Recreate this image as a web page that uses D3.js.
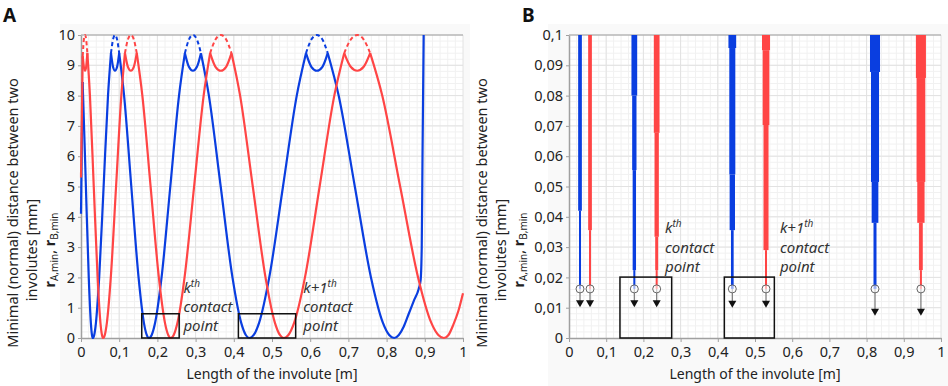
<!DOCTYPE html>
<html>
<head>
<meta charset="utf-8">
<script src="https://cdn.jsdelivr.net/npm/d3@7"></script>
<style>
  body { margin: 0; background: #fff; }
  svg { display: block; }
  text { font-family: "Noto Sans", sans-serif; fill: #222; }
</style>
</head>
<body>
<svg id="chart" width="948" height="386"></svg>
<script>
// x ticks, shared by both panels
const xTicks = [0, 0.1, 0.2, 0.3, 0.4, 0.5, 0.6, 0.7, 0.8, 0.9, 1]
const xTickLabels = ["0", "0,1", "0,2", "0,3", "0,4", "0,5", "0,6", "0,7", "0,8", "0,9", "1"]
const yTicksA = [0, 1, 2, 3, 4, 5, 6, 7, 8, 9, 10]
const yTickLabelsA = ["0", "1", "2", "3", "4", "5", "6", "7", "8", "9", "10"]
const yTicksB = [0, 0.01, 0.02, 0.03, 0.04, 0.05, 0.06, 0.07, 0.08, 0.09, 0.1]
const yTickLabelsB = ["0", "0,01", "0,02", "0,03", "0,04", "0,05", "0,06", "0,07", "0,08", "0,09", "0,1"]

// panel A: [length, distance]
const blueA = [
  [0, 4.1], [0.004, 8.45], [0.0054, 8], [0.0128, 5], [0.0203, 2], [0.0258, 0.5], [0.0287, 0.1], [0.031, 0],
  [0.0346, 0.1], [0.0391, 0.5], [0.0476, 2], [0.0592, 5], [0.0707, 8], [0.0785, 9.4],
  [0.0838, 8.95], [0.089, 8.82], [0.0945, 8.95], [0.1, 9.4],
  [0.1128, 8], [0.1317, 5], [0.1507, 2], [0.1647, 0.5], [0.1721, 0.1], [0.178, 0],
  [0.1851, 0.1], [0.194, 0.5], [0.2109, 2], [0.2338, 5], [0.2566, 8], [0.272, 9.4],
  [0.2825, 8.95], [0.293, 8.82], [0.3035, 8.95], [0.314, 9.4],
  [0.3348, 8], [0.3657, 5], [0.3965, 2], [0.4194, 0.5], [0.4314, 0.1], [0.441, 0],
  [0.4522, 0.1], [0.4662, 0.5], [0.4928, 2], [0.5288, 5], [0.5648, 8], [0.589, 9.4],
  [0.603, 8.95], [0.6175, 8.82], [0.632, 8.95], [0.646, 9.4],
  [0.6745, 8], [0.7168, 5], [0.7591, 2], [0.7904, 0.5], [0.8068, 0.1], [0.82, 0],
  [0.832, 0.1], [0.845, 0.38], [0.858, 0.8], [0.872, 1.25], [0.884, 1.62], [0.889, 1.9],
  [0.892, 3], [0.894, 6], [0.897, 10]
]
const redA = [
  [0, 5.3], [0.0045, 9.3], [0.0075, 8.95], [0.0105, 8.82], [0.0135, 8.95], [0.0166, 9.4],
  [0.0234, 8], [0.0334, 5], [0.0435, 2], [0.0509, 0.5], [0.0549, 0.1], [0.058, 0],
  [0.0623, 0.1], [0.0677, 0.5], [0.078, 2], [0.0918, 5], [0.1056, 8], [0.115, 9.4],
  [0.1228, 8.95], [0.1305, 8.82], [0.1383, 8.95], [0.146, 9.4],
  [0.1606, 8], [0.1822, 5], [0.2038, 2], [0.2198, 0.5], [0.2283, 0.1], [0.235, 0],
  [0.2428, 0.1], [0.2525, 0.5], [0.2711, 2], [0.2961, 5], [0.3211, 8], [0.338, 9.4],
  [0.352, 8.95], [0.366, 8.82], [0.38, 8.95], [0.394, 9.4],
  [0.4165, 8], [0.4497, 5], [0.483, 2], [0.5077, 0.5], [0.5206, 0.1], [0.531, 0],
  [0.543, 0.1], [0.5579, 0.5], [0.5863, 2], [0.6247, 5], [0.6631, 8], [0.689, 9.4],
  [0.706, 8.95], [0.723, 8.82], [0.74, 8.95], [0.757, 9.4],
  [0.7886, 8], [0.8355, 5], [0.8824, 2], [0.9171, 0.5], [0.9354, 0.1], [0.95, 0],
  [0.962, 0.1], [0.975, 0.45], [0.988, 0.9], [1, 1.48]
]
// dashed tops above the cusps
const blueDashA = [
  [[0.0785, 9.4], [0.0838, 9.85], [0.089, 10], [0.0945, 9.85], [0.1, 9.4]],
  [[0.272, 9.4], [0.2825, 9.85], [0.293, 10], [0.3035, 9.85], [0.314, 9.4]],
  [[0.589, 9.4], [0.603, 9.85], [0.6175, 10], [0.632, 9.85], [0.646, 9.4]]
]
const redDashA = [
  [[0.0045, 9.3], [0.0075, 9.85], [0.0105, 10], [0.0135, 9.85], [0.0166, 9.4]],
  [[0.115, 9.4], [0.1228, 9.85], [0.1305, 10], [0.1383, 9.85], [0.146, 9.4]],
  [[0.338, 9.4], [0.352, 9.85], [0.366, 10], [0.38, 9.85], [0.394, 9.4]],
  [[0.689, 9.4], [0.706, 9.85], [0.723, 10], [0.74, 9.85], [0.757, 9.4]]
]
// contact point boxes [x0, x1, yTop]
const boxesA = [[0.159, 0.257, 0.8], [0.412, 0.562, 0.8]]
const boxesB = [[0.137, 0.276, 0.0201], [0.4175, 0.552, 0.0201]]

// panel B: bar centre, colour, steps [vTop, vBottom, halfSpread]
const barsB = [
  { x: 0.0296, s: "blue", steps: [[0.1, 0.042, 0.005], [0.042, 0.0162, 0.0027]] },
  { x: 0.0565, s: "red", steps: [[0.1, 0.0356, 0.005], [0.0356, 0.0162, 0.0027]] },
  { x: 0.1756, s: "blue", steps: [[0.1, 0.08, 0.0077], [0.08, 0.0554, 0.0058], [0.0554, 0.0224, 0.0045], [0.0224, 0.0162, 0.0027]] },
  { x: 0.2357, s: "red", steps: [[0.1, 0.0677, 0.0077], [0.0677, 0.0334, 0.0058], [0.0334, 0.0224, 0.004], [0.0224, 0.0162, 0.0027]] },
  { x: 0.439, s: "blue", steps: [[0.1, 0.0957, 0.0104], [0.0957, 0.054, 0.0081], [0.054, 0.0356, 0.0072], [0.0356, 0.0162, 0.0036]] },
  { x: 0.5296, s: "red", steps: [[0.1, 0.095, 0.0108], [0.095, 0.0703, 0.009], [0.0703, 0.029, 0.0068], [0.029, 0.0162, 0.0027]] },
  { x: 0.8226, s: "blue", steps: [[0.1, 0.0878, 0.0135], [0.0878, 0.0515, 0.0108], [0.0515, 0.038, 0.009], [0.038, 0.0162, 0.004]] },
  { x: 0.946, s: "red", steps: [[0.1, 0.0858, 0.0135], [0.0858, 0.0515, 0.0117], [0.0515, 0.038, 0.0098], [0.038, 0.0224, 0.005], [0.0224, 0.0162, 0.0027]] }
]
const circleB = [0.0162, 0.0162, 0.0162, 0.0162, 0.0162, 0.0162, 0.0162, 0.0162]
const arrowB = [0.0117, 0.0117, 0.0117, 0.0117, 0.0115, 0.0115, 0.0089, 0.0089]

const labelsA = [{ x: 0.268, k: "k", sup: "th" }, { x: 0.582, k: "k+1", sup: "th" }]
const labelRowsA = [1.49, 0.86, 0.23]
const labelsB = [{ x: 0.258, k: "k", sup: "th" }, { x: 0.567, k: "k+1", sup: "th" }]
const labelRowsB = [0.0347, 0.0282, 0.0219]

const colors = { blue: "#0a3ee0", red: "#ff4545" }

const svg = d3.select("#chart")

function drawPanel(cfg) {
  const x = d3.scaleLinear().domain([0, 1]).range(cfg.xRange)
  const y = d3.scaleLinear().domain([0, cfg.yMax]).range([338, 35])
  const g = svg.append("g")

  g.append("rect")
    .attr("x", cfg.bg[0]).attr("y", 24)
    .attr("width", cfg.bg[1] - cfg.bg[0]).attr("height", 362)
    .attr("fill", "#f9f9f9")
  g.append("rect")
    .attr("x", x(0)).attr("y", y(cfg.yMax))
    .attr("width", x(1) - x(0)).attr("height", y(0) - y(cfg.yMax))
    .attr("fill", "#fff")

  // minor grid
  g.selectAll("line.minorX").data(d3.range(0.02, 1, 0.02)).join("line")
    .attr("x1", d => x(d)).attr("x2", d => x(d))
    .attr("y1", y(0)).attr("y2", y(cfg.yMax))
    .style("stroke", "#f1f1f1")
  g.selectAll("line.minorY").data(d3.range(1, 50).map(i => i * cfg.yMax / 50)).join("line")
    .attr("y1", d => y(d)).attr("y2", d => y(d))
    .attr("x1", x(0)).attr("x2", x(1))
    .style("stroke", "#f1f1f1")
  // major grid
  g.selectAll("line.majorX").data(xTicks.slice(1)).join("line")
    .attr("x1", d => x(d)).attr("x2", d => x(d))
    .attr("y1", y(0)).attr("y2", y(cfg.yMax))
    .style("stroke", "#e2e2e2")
  g.selectAll("line.majorY").data(cfg.yTicks.slice(1)).join("line")
    .attr("y1", d => y(d)).attr("y2", d => y(d))
    .attr("x1", x(0)).attr("x2", x(1))
    .style("stroke", "#e2e2e2")
  // top border
  g.append("line")
    .attr("x1", x(0)).attr("x2", x(1)).attr("y1", y(cfg.yMax)).attr("y2", y(cfg.yMax))
    .style("stroke", "#a0a0a0").style("stroke-width", 1.2)

  const xAxis = d3.axisBottom(x).tickValues(xTicks)
    .tickFormat((d, i) => xTickLabels[i]).tickSize(4).tickSizeOuter(0).tickPadding(5)
  const yAxis = d3.axisLeft(y).tickValues(cfg.yTicks)
    .tickFormat((d, i) => cfg.yTickLabels[i]).tickSize(3).tickSizeOuter(0).tickPadding(3)
  g.append("g").attr("transform", `translate(0,${y(0)})`).call(xAxis)
  g.append("g").attr("transform", `translate(${x(0)},0)`).call(yAxis)
  g.selectAll(".domain").style("stroke", "#a0a0a0").style("stroke-width", 1.5)
  g.selectAll(".tick line").style("stroke", "#a0a0a0")
  g.selectAll(".tick text").style("font-size", "14.5px").style("fill", "#222")
    .style("font-family", "'Noto Sans', sans-serif")

  // axis titles
  g.append("text")
    .attr("x", (x(0) + x(1)) / 2).attr("y", 379)
    .attr("text-anchor", "middle").style("font-size", "14px")
    .text("Length of the involute [m]")
  const t = g.append("g")
    .attr("transform", `translate(${cfg.titleX},0) rotate(-90)`)
  t.append("text").attr("x", -cfg.titleY[0]).attr("y", 0)
    .attr("text-anchor", "middle").style("font-size", "14.5px")
    .text("Minimal (normal) distance between two")
  t.append("text").attr("x", -cfg.titleY[1]).attr("y", 19)
    .attr("text-anchor", "middle").style("font-size", "14.5px")
    .text("involutes [mm]")
  const r = t.append("text").attr("x", -cfg.titleY[1]).attr("y", 37)
    .attr("text-anchor", "middle").style("font-size", "14.5px")
  r.append("tspan").style("font-weight", "bold").text("r")
  r.append("tspan").attr("baseline-shift", "-25%").style("font-size", "10px").text("A,min")
  r.append("tspan").text(", ")
  r.append("tspan").style("font-weight", "bold").text("r")
  r.append("tspan").attr("baseline-shift", "-25%").style("font-size", "10px").text("B,min")

  g.append("text").attr("x", cfg.letterX).attr("y", 22)
    .style("font-size", "19px").style("font-weight", "bold").style("fill", "#111")
    .text(cfg.letter)

  return { g, x, y }
}

// split a curve at its cusps (local maxima) so each piece stays smooth
function splitAtCusps(points) {
  const pieces = []
  let cur = [points[0]]
  for (let i = 1; i < points.length; i++) {
    cur.push(points[i])
    const prev = points[i - 1], next = points[i + 1]
    if (next && points[i][1] > prev[1] && points[i][1] > next[1]) {
      pieces.push(cur)
      cur = [points[i]]
    }
  }
  pieces.push(cur)
  return pieces
}

// ---- panel A
const A = drawPanel({
  xRange: [81, 463], yMax: 10, yTicks: yTicksA, yTickLabels: yTickLabelsA,
  bg: [60, 470], titleX: 18, titleY: [213, 250], letter: "A", letterX: 3
})
const lineA = d3.line().x(d => A.x(d[0])).y(d => A.y(d[1])).curve(d3.curveMonotoneX)

const series = [["blue", blueA, blueDashA], ["red", redA, redDashA]]
series.forEach(([name, pts, dashes]) => {
  A.g.selectAll(null).data(dashes).join("path")
    .attr("d", lineA)
    .style("fill", "none").style("stroke", colors[name])
    .style("stroke-width", 2).style("stroke-dasharray", "4,3")
  A.g.selectAll(null).data(splitAtCusps(pts)).join("path")
    .attr("d", lineA)
    .style("fill", "none").style("stroke", colors[name])
    .style("stroke-width", 2.2).style("stroke-linejoin", "round")
})

A.g.selectAll(null).data(boxesA).join("rect")
  .attr("x", d => A.x(d[0])).attr("y", d => A.y(d[2]))
  .attr("width", d => A.x(d[1]) - A.x(d[0])).attr("height", d => A.y(0) - A.y(d[2]))
  .style("fill", "none").style("stroke", "#111").style("stroke-width", 1.5)

function drawLabels(p, labels, rows) {
  labels.forEach(l => {
    const k = p.g.append("text").attr("x", p.x(l.x)).attr("y", p.y(rows[0]))
      .style("font-size", "15px").style("font-style", "italic").style("fill", "#333")
    k.append("tspan").text(l.k)
    k.append("tspan").attr("dy", -6).style("font-size", "10px").text(l.sup)
    p.g.append("text").attr("x", p.x(l.x)).attr("y", p.y(rows[1]))
      .style("font-size", "15px").style("font-style", "italic").style("fill", "#333")
      .text("contact")
    p.g.append("text").attr("x", p.x(l.x)).attr("y", p.y(rows[2]))
      .style("font-size", "15px").style("font-style", "italic").style("fill", "#333")
      .text("point")
  })
}
drawLabels(A, labelsA, labelRowsA)

// ---- panel B
const B = drawPanel({
  xRange: [569, 941], yMax: 0.1, yTicks: yTicksB, yTickLabels: yTickLabelsB,
  bg: [548, 948], titleX: 487, titleY: [213, 250], letter: "B", letterX: 522
})

barsB.forEach((bar, i) => {
  B.g.selectAll(null).data(bar.steps).join("rect")
    .attr("x", d => B.x(bar.x - d[2])).attr("y", d => B.y(d[0]))
    .attr("width", d => B.x(bar.x + d[2]) - B.x(bar.x - d[2]))
    .attr("height", d => B.y(d[1]) - B.y(d[0]))
    .style("fill", colors[bar.s])
  const cx = B.x(bar.x)
  B.g.append("line")
    .attr("x1", cx).attr("x2", cx)
    .attr("y1", B.y(circleB[i])).attr("y2", B.y(arrowB[i]))
    .style("stroke", "#777").style("stroke-width", 1.2)
  B.g.append("circle")
    .attr("cx", cx).attr("cy", B.y(circleB[i])).attr("r", 4)
    .style("fill", "#fff").style("fill-opacity", 0.6)
    .style("stroke", "#666").style("stroke-width", 1)
  B.g.append("path")
    .attr("d", d3.symbol(d3.symbolTriangle, 28)())
    .attr("transform", `translate(${cx},${B.y(arrowB[i])}) rotate(180)`)
    .style("fill", "#111")
})

B.g.selectAll(null).data(boxesB).join("rect")
  .attr("x", d => B.x(d[0])).attr("y", d => B.y(d[2]))
  .attr("width", d => B.x(d[1]) - B.x(d[0])).attr("height", d => B.y(0) - B.y(d[2]))
  .style("fill", "none").style("stroke", "#111").style("stroke-width", 1.5)

drawLabels(B, labelsB, labelRowsB)
</script>
</body>
</html>
